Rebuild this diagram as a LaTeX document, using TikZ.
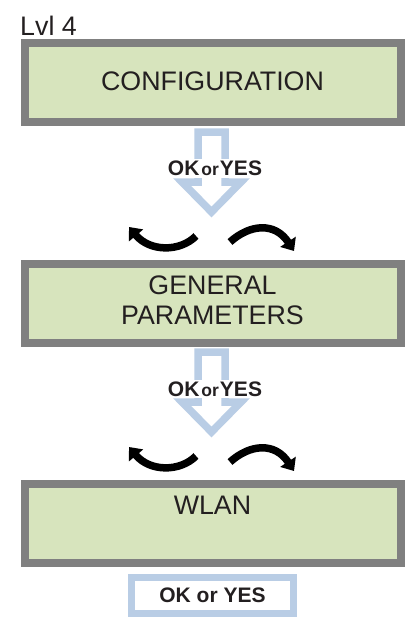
\documentclass[tikz,border=0pt]{standalone}
\usepackage{fontspec}
\setmainfont{Liberation Sans}
\usetikzlibrary{arrows.meta}
\definecolor{boxgray}{HTML}{808080}
\definecolor{boxgreen}{HTML}{D7E4BD}
\definecolor{arrowblue}{HTML}{B9CDE5}
\definecolor{txt}{HTML}{231F20}
\begin{document}
\begin{tikzpicture}[x=1pt,y=-1pt,
  screen/.style={draw=boxgray, line width=8pt, fill=boxgreen, minimum width=376pt, minimum height=79pt, inner sep=0pt},
  big/.style={font=\fontsize{26.8}{30}\selectfont, text=txt, inner sep=0pt},
  key/.style={font=\bfseries\fontsize{21}{24}\selectfont, text=txt, fill=white, inner xsep=1pt, inner ysep=2pt},
  turn/.style={line width=7.5pt, -{Triangle[length=11pt,width=18pt]}},
  hollow/.style={draw=arrowblue, line width=7.5pt, miter limit=10, fill=white},
  okbox/.style={draw=arrowblue, line width=7pt, fill=white, minimum width=162pt, minimum height=36pt, inner sep=0pt, font=\bfseries\fontsize{21}{24}\selectfont, text=txt},
  downarrow/.pic={\draw[hollow] (-13.5,0) -- (13.5,0) -- (13.5,50) -- (29.5,50) -- (0,80) -- (-29.5,50) -- (-13.5,50) -- cycle;}
]
\useasboundingbox (0,0) rectangle (414,619);
\fill[white] (0,0) rectangle (414,619);

\node[big, anchor=base west] (lvl) at (20,35) {Lvl 4};

% screens
\node[screen] (s1) at (213,82.5) {};
\node[big] (t1) at (212.5,81) {CONFIGURATION};
\node[screen] (s2) at (213,303) {};
\node[big] (t2a) at (212.5,285) {GENERAL};
\node[big] (t2b) at (212.5,315) {PARAMETERS};
\node[screen] (s3) at (213,523) {};
\node[big] (t3) at (212.5,505) {WLAN};

% hollow arrows
\pic at (211.5,132) {downarrow};
\pic at (211.5,352) {downarrow};
\node[key] (k1) at (215,168.5) {OK\kern2pt{\fontsize{17.5}{20}\selectfont or}\kern1pt YES};
\node[key] (k2) at (215,389) {OK\kern2pt{\fontsize{17.5}{20}\selectfont or}\kern1pt YES};

% curved arrows, pair 1
\coordinate (l1s) at (196,236); \coordinate (l1e) at (129,227);
\coordinate (r1s) at (230,242); \coordinate (r1e) at (294,251);
\draw[turn] (l1s) .. controls (180,252) and (150,252) .. (l1e);
\draw[turn] (r1s) .. controls (250,224) and (275,222) .. (r1e);
% curved arrows, pair 2
\coordinate (l2s) at (196,456); \coordinate (l2e) at (129,447);
\coordinate (r2s) at (230,462); \coordinate (r2e) at (294,471);
\draw[turn] (l2s) .. controls (180,472) and (150,472) .. (l2e);
\draw[turn] (r2s) .. controls (250,444) and (275,442) .. (r2e);

% final key
\node[okbox] (ok) at (212.5,595.5) {OK or YES};
\end{tikzpicture}
\end{document}
